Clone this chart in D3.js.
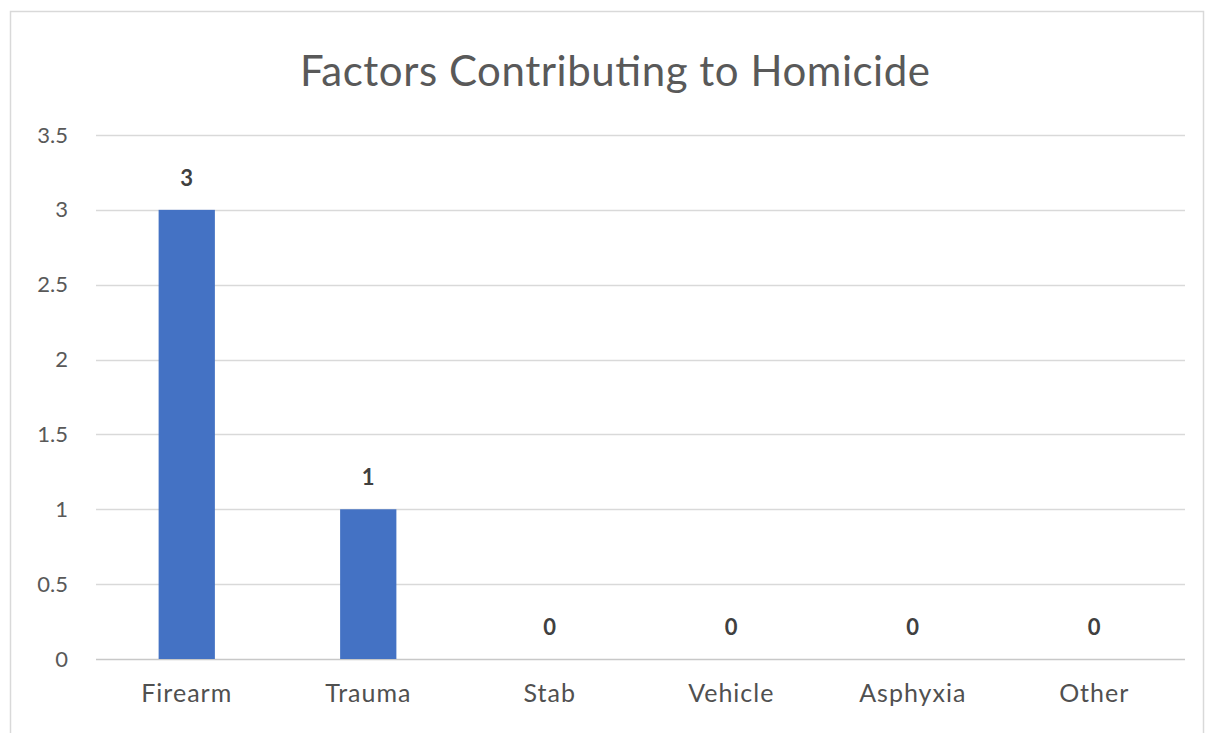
<!DOCTYPE html>
<html><head><meta charset="utf-8">
<script src="https://cdn.jsdelivr.net/npm/d3@7"></script>
<style>body{margin:0;background:#fff}</style>
</head><body>
<svg id="c" width="1211" height="733"></svg>
<script>
const categories = ["Firearm","Trauma","Stab","Vehicle","Asphyxia","Other"];
const values = [3,1,0,0,0,0];
const yTicks = [0,0.5,1,1.5,2,2.5,3,3.5];
const title = "Factors Contributing to Homicide";

const svg = d3.select("#c");
const m = {left:96, right:1185, top:135, bottom:659};
const FONT = "Lato, 'Liberation Sans', sans-serif";

svg.append("rect").attr("x",10.5).attr("y",11.5).attr("width",1193).attr("height",740)
  .attr("fill","#fff").attr("stroke","#d9d9d9").attr("stroke-width",1.5);

const x = d3.scaleBand().domain(categories).range([m.left,m.right]).paddingInner(0.69).paddingOuter(0.345);
const y = d3.scaleLinear().domain([0,3.5]).range([m.bottom,m.top]);

svg.append("g").selectAll("line").data(yTicks).join("line")
  .attr("x1",m.left).attr("x2",m.right)
  .attr("y1",d=>Math.round(y(d))+0.5).attr("y2",d=>Math.round(y(d))+0.5)
  .attr("stroke",d=>d===0?"#c8c8c8":"#d9d9d9").attr("stroke-width",1.5);

const yAxis = d3.axisLeft(y).tickValues(yTicks).tickSize(0).tickPadding(28).tickFormat(d=>String(d));
svg.append("g").attr("transform",`translate(${m.left},0)`).call(yAxis)
  .call(g=>g.select(".domain").remove())
  .selectAll("text").attr("font-family",FONT)
  .attr("font-size",22).attr("fill","#595959");

svg.append("g").selectAll("rect").data(categories).join("rect")
  .attr("x",d=>x(d)).attr("width",x.bandwidth())
  .attr("y",(d,i)=>y(values[i])).attr("height",(d,i)=>y(0)-y(values[i]))
  .attr("fill","#4472c4");

svg.append("g").selectAll("text").data(categories).join("text")
  .attr("x",d=>x(d)+x.bandwidth()/2).attr("y",(d,i)=>y(values[i])-24)
  .attr("text-anchor","middle").attr("font-family",FONT)
  .attr("font-size",22).attr("font-weight","bold").attr("fill","#404040")
  .text((d,i)=>values[i]);

const xAxis = d3.axisBottom(x).tickSize(0).tickPadding(25);
svg.append("g").attr("transform",`translate(0,${m.bottom})`).call(xAxis)
  .call(g=>g.select(".domain").remove())
  .selectAll("text").attr("font-family",FONT)
  .attr("font-size",25).attr("letter-spacing",1).attr("fill","#505050");

svg.append("text").attr("x",615).attr("y",86).attr("text-anchor","middle")
  .attr("font-family",FONT).attr("font-size",42)
  .attr("textLength",630).attr("lengthAdjust","spacing")
  .attr("fill","#595959").text(title);
</script>
</body></html>
